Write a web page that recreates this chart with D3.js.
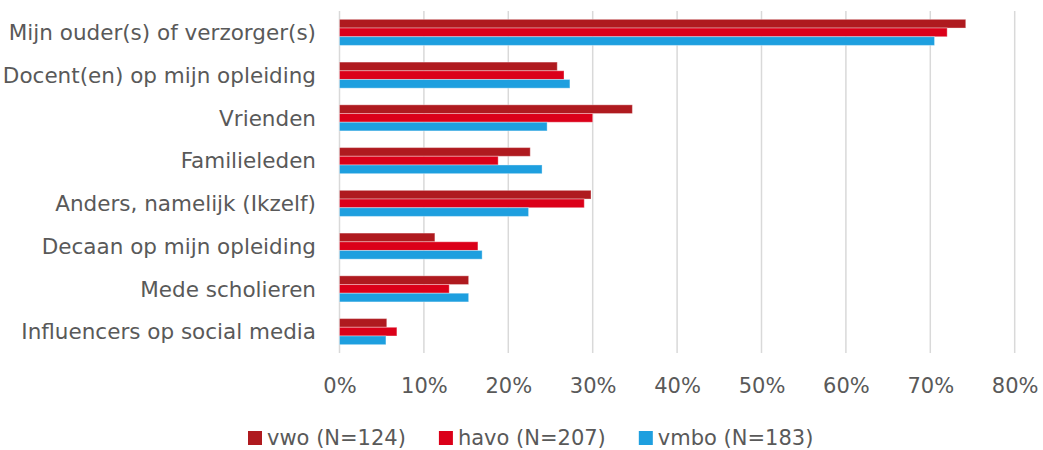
<!DOCTYPE html>
<html>
<head>
<meta charset="utf-8">
<script src="https://cdn.jsdelivr.net/npm/d3@7"></script>
<style>
  body { margin: 0; background: #fff; }
  text { font-family: "DejaVu Sans", Verdana, sans-serif; fill: #595959; }
</style>
</head>
<body>
<svg id="svg"></svg>
<script>
    var w = 1043;
    var h = 450;

    // chart data (fractions)
    var categories = [
        "Mijn ouder(s) of verzorger(s)",
        "Docent(en) op mijn opleiding",
        "Vrienden",
        "Familieleden",
        "Anders, namelijk (Ikzelf)",
        "Decaan op mijn opleiding",
        "Mede scholieren",
        "Influencers op social media"
    ];
    var seriesNames = ["vwo (N=124)", "havo (N=207)", "vmbo (N=183)"];
    var vwo  = [0.742, 0.258, 0.347, 0.226, 0.298, 0.113, 0.153, 0.056];
    var havo = [0.720, 0.266, 0.300, 0.188, 0.290, 0.164, 0.130, 0.068];
    var vmbo = [0.705, 0.273, 0.246, 0.240, 0.224, 0.169, 0.153, 0.055];
    var ticks = [0, 0.1, 0.2, 0.3, 0.4, 0.5, 0.6, 0.7, 0.8];

    var colors = ["#AF1A1F", "#DB0019", "#1E9FDF"];
    var seriesValues = [vwo, havo, vmbo];

    var plotLeft = 339.5, plotRight = 1014.7, plotTop = 11, plotBottom = 353;

    var svg = d3.select("#svg")
        .attr("width", w)
        .attr("height", h);

    var x = d3.scaleLinear().domain([0, 0.8]).range([plotLeft, plotRight]);
    var y = d3.scaleBand().domain(categories).range([plotTop, plotBottom])
        .paddingInner(0.39).paddingOuter(0.195);
    var ys = d3.scaleBand().domain(d3.range(seriesNames.length)).range([0, y.bandwidth()]);

    // gridlines
    svg.append("g")
        .selectAll("line")
        .data(ticks)
        .enter().append("line")
        .attr("x1", function(d) { return x(d) })
        .attr("x2", function(d) { return x(d) })
        .attr("y1", plotTop)
        .attr("y2", plotBottom)
        .attr("stroke", "#D9D9D9")
        .attr("stroke-width", 1.5);

    // bars
    var groups = svg.append("g")
        .selectAll("g")
        .data(categories)
        .enter().append("g")
        .attr("transform", function(d) { return "translate(0," + y(d) + ")" });

    groups.selectAll("rect")
        .data(function(d, i) {
            return seriesValues.map(function(vals, s) { return {s: s, v: vals[i]} });
        })
        .enter().append("rect")
        .attr("x", x(0))
        .attr("y", function(d) { return ys(d.s) })
        .attr("width", function(d) { return x(d.v) - x(0) })
        .attr("height", ys.bandwidth())
        .attr("fill", function(d) { return colors[d.s] })
        .attr("stroke", "#fff")
        .attr("stroke-opacity", 0.35)
        .attr("stroke-width", 1);

    // category labels
    var yAxis = d3.axisLeft(y).tickSize(0).tickPadding(0);
    var ya = svg.append("g")
        .attr("transform", "translate(316,0)")
        .call(yAxis);
    ya.select(".domain").remove();
    ya.selectAll("text")
        .attr("font-size", 21.5)
        .attr("font-family", "DejaVu Sans, Verdana, sans-serif")
        .attr("fill", "#595959")
        .attr("dy", "0.36em");

    // x tick labels
    var xAxis = d3.axisBottom(x).tickValues(ticks).tickSize(0).tickPadding(0)
        .tickFormat(d3.format(".0%"));
    var xa = svg.append("g")
        .attr("transform", "translate(0,393)")
        .call(xAxis);
    xa.select(".domain").remove();
    xa.selectAll("text")
        .attr("font-size", 21)
        .attr("font-family", "DejaVu Sans, Verdana, sans-serif")
        .attr("fill", "#595959")
        .attr("dy", 0)
        .attr("y", 0);

    // legend
    var legend = svg.append("g");
    var lx = 248;
    seriesNames.forEach(function(name, i) {
        legend.append("rect")
            .attr("x", lx)
            .attr("y", 431)
            .attr("width", 14)
            .attr("height", 14)
            .attr("fill", colors[i]);
        var t = legend.append("text")
            .attr("x", lx + 19)
            .attr("y", 445)
            .attr("font-size", 21)
            .text(name);
        lx += 19 + t.node().getComputedTextLength() + 33;
    });
</script>
</body>
</html>
